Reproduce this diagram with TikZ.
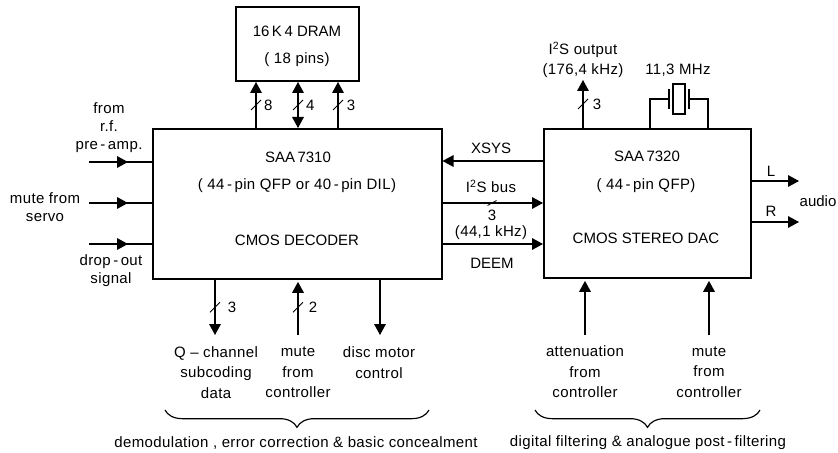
\documentclass[tikz,border=0pt]{standalone}
\usepackage{fontspec}
\setmainfont{Liberation Sans}
\newfontfamily\spacedfont[LetterSpace=2.5]{Liberation Sans}
\usetikzlibrary{positioning}
\usetikzlibrary{arrows.meta}
\usetikzlibrary{calc}
\usetikzlibrary{decorations.pathreplacing}
\newcommand{\busmark}[3]{%
  \draw[tick] ($(#1)+(-5,5)$) -- ($(#1)+(5,-5)$);
  \node[lbl, #2] (#1lbl) at (#1) {#3};
}
\begin{document}
\begin{tikzpicture}[
    x=0.03cm, y=-0.03cm,
    chip/.style={rectangle, draw, line width=1.3pt, anchor=north west, inner sep=0pt},
    arrow/.style={-{Triangle[length=3.3mm, width=3.5mm]}, line width=1pt},
    dblarrow/.style={{Triangle[length=3.3mm, width=3.5mm]}-{Triangle[length=3.3mm, width=3.5mm]}, line width=1pt},
    wire/.style={line width=1pt},
    tick/.style={line width=0.7pt},
    lbl/.style={font=\fontsize{12.8}{17.4}\selectfont, align=center, inner sep=0pt},
    txt/.style={font=\fontsize{12.8}{17.4}\selectfont\spacedfont, align=center, inner sep=0pt},
    brace/.style={decorate, decoration={brace, mirror, amplitude=5.2mm, raise=0pt}, line width=1pt}
]
\useasboundingbox (0,0) rectangle (838,453);

\node[chip, minimum width=8.67cm, minimum height=4.5cm] (decoder) at (152,128) {};
\node[chip, minimum width=6.21cm, minimum height=4.47cm] (dac) at (543,128) {};
\node[chip, minimum width=3.69cm, minimum height=2.22cm] (dram) at (235,6) {};

% Texts in the boxes
\node[lbl] (dramname) at (297,31) {16\,K\,4 DRAM};
\node[txt] (drampins) at (297,60) {( 18 pins)};
\node[lbl] (decname) at (298,157) {SAA\,7310};
\node[txt] (decpkg) at (297,186) {( 44\,-\,pin QFP or 40\,-\,pin DIL)};
\node[lbl] (dectype) at (297,240) {CMOS DECODER};
\node[lbl] (dacname) at (647,156) {SAA\,7320};
\node[txt] (dacpkg) at (646,186) {( 44\,-\,pin QFP)};
\node[lbl] (dactype) at (646,238) {CMOS STEREO DAC};

% DRAM bus
\coordinate (dramA) at (256,82);
\coordinate (dramB) at (298,82);
\coordinate (dramC) at (338,82);
\draw[arrow] (dramA |- decoder.north) -- coordinate[pos=.5] (tickA) (dramA);
\draw[dblarrow] (dramB |- decoder.north) -- coordinate[pos=.5] (tickB) (dramB);
\draw[arrow] (dramC |- decoder.north) -- coordinate[pos=.5] (tickC) (dramC);
\busmark{tickA}{xshift=0.37cm}{8}
\busmark{tickB}{xshift=0.37cm}{4}
\busmark{tickC}{xshift=0.39cm}{3}

% Inputs on the left
\node[txt] (rf) at (109,128) {from\\[-2pt]r.f.\\[-2pt]pre\,-\,amp.};
\node[txt] (servo) at (45,207) {mute from\\[-2pt]servo};
\node[txt] (dropout) at (111,271) {drop\,-\,out\\[-2pt]signal};
\coordinate (inA) at (89,162);
\coordinate (inB) at (89,203);
\coordinate (inC) at (89,244);
\draw[arrow] (inA) -- ++(39,0);
\draw[wire] (inA) -- (inA -| decoder.west);
\draw[arrow] (inB) -- ++(39,0);
\draw[wire] (inB) -- (inB -| decoder.west);
\draw[arrow] (inC) -- ++(39,0);
\draw[wire] (inC) -- (inC -| decoder.west);

% Between the chips
\coordinate (xsys) at (543,161);
\coordinate (bus) at (441,203);
\coordinate (deem) at (441,244);
\draw[arrow] (xsys) -- (xsys -| decoder.east);
\draw[arrow] (bus) -- coordinate[pos=.5] (tickBus) (bus -| dac.west);
\draw[arrow] (deem) -- (deem -| dac.west);
\draw[tick] ($(tickBus)+(-4.5,2.5)$) -- ($(tickBus)+(4.5,-2.5)$);
\node[lbl] (xsyslbl) at (491,148) {XSYS};
\node[txt] (buslbl) at (491,186) {I\textsuperscript{2}S bus};
\node[lbl] (buswidth) at (492,215) {3};
\node[txt] (buskhz) at (491,233) {(44,1 kHz)};
\node[lbl] (deemlbl) at (492,263) {DEEM};

% Outputs of the DAC
\node[txt] (i2s) at (583,60) {I\textsuperscript{2}S output\\(176,4 kHz)};
\coordinate (i2sout) at (583,80);
\draw[arrow] (i2sout |- dac.north) -- coordinate[pos=.5] (tickI) (i2sout);
\busmark{tickI}{xshift=0.42cm}{3}
\coordinate (left) at (799,181);
\coordinate (right) at (799,222);
\draw[arrow] (left -| dac.east) -- (left);
\draw[arrow] (right -| dac.east) -- (right);
\node[lbl] (leftlbl) at (771,171) {L};
\node[lbl] (rightlbl) at (771,211) {R};
\node[lbl] (audio) at (818,201) {audio};

% Crystal
\node[txt] (xtallbl) at (678,70) {11,3 MHz};
\node[rectangle, draw, wire, minimum width=0.36cm, minimum height=0.9cm, inner sep=0pt] (xtal) at (679,99) {};
\coordinate (xtalL) at (650,128);
\coordinate (xtalR) at (708,128);
\coordinate (plateL) at (669,99);
\coordinate (plateR) at (689,99);
\draw[wire] (xtalL) |- (plateL);
\draw[wire] (xtalR) |- (plateR);
\draw[line width=1.6pt] ($(plateL)+(0,-10)$) -- ($(plateL)+(0,10)$);
\draw[line width=1.6pt] ($(plateR)+(0,-10)$) -- ($(plateR)+(0,10)$);

% Below the decoder
\node[txt] (qdata) at (216,372.5) {Q – channel\\subcoding\\data};
\node[txt] (mutedec) at (298,372.5) {mute\\from\\controller};
\node[txt] (motor) at (379,362.5) {disc motor\\control};
\coordinate (qend) at (215,335);
\coordinate (muteend) at (298,335);
\coordinate (motorend) at (380,335);
\draw[arrow] (qend |- decoder.south) -- coordinate[pos=.5] (tickQ) (qend);
\draw[arrow, shorten >=2pt] (muteend) -- coordinate[pos=.5] (tickM) (muteend |- decoder.south);
\draw[arrow] (motorend |- decoder.south) -- (motorend);
\busmark{tickQ}{xshift=0.51cm}{3}
\busmark{tickM}{xshift=0.45cm}{2}

% Below the DAC
\node[txt] (atten) at (585,372) {attenuation\\from\\controller};
\node[txt] (mutedac) at (709,372) {mute\\from\\controller};
\coordinate (attenend) at (585,335);
\coordinate (muteDend) at (709,335);
\draw[arrow, shorten >=2pt] (attenend) -- (attenend |- dac.south);
\draw[arrow, shorten >=2pt] (muteDend) -- (muteDend |- dac.south);

% Braces
\coordinate (braceA) at (165,410);
\coordinate (braceB) at (429,410);
\coordinate (braceC) at (535,410);
\coordinate (braceD) at (760,410);
\draw[brace] (braceA) -- (braceB);
\draw[brace] (braceC) -- (braceD);
\node[txt] (demod) at (296,443) {demodulation , error correction \& basic concealment};
\node[txt] (filter) at (648,443) {digital filtering \& analogue post\,-\,filtering};
\end{tikzpicture}
\end{document}
